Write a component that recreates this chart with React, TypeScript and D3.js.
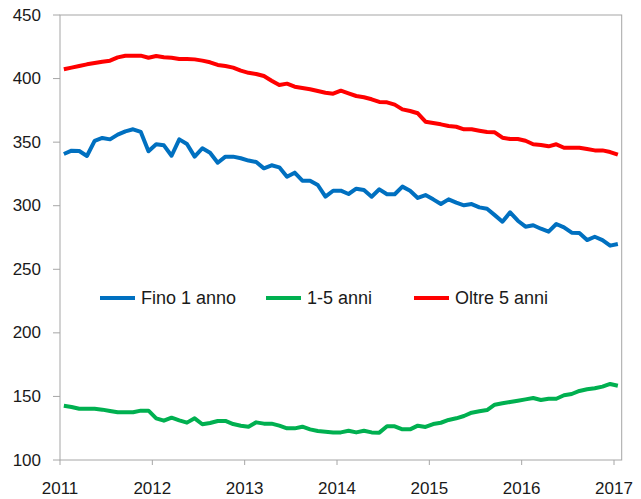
import React from "react";
import * as d3 from "d3";

// monthly values, Jan 2011 - Jan 2017
const fino1 = [
	340.7, 343.3, 343, 339.1, 351, 353.3, 352.2, 355.9, 358.5, 360.1, 358, 342.8,
	348.3, 347.5, 339.3, 352.2, 348.5, 338.6, 345.2, 341.7, 333.8, 338.6, 338.6, 337.3,
	335.5, 334.4, 329.4, 331.8, 330.2, 322.8, 326, 319.7, 319.7, 316.3, 307.1, 311.8,
	311.8, 309.2, 313.4, 312.4, 307.1, 312.9, 309, 309, 315, 311.8, 306.1, 308.4,
	305, 301.3, 305, 302.4, 300.3, 301.3, 298.7, 297.6, 292.6, 287.4, 294.8, 288.2,
	283.5, 284.6, 281.9, 279.6, 285.6, 283, 278.8, 278.5, 273, 275.6, 273, 268.6,
	269.9,
];

const anni1_5 = [
	142.7, 141.7, 140.3, 140.3, 140.3, 139.6, 138.5, 137.5, 137.5, 137.5, 138.8, 138.8,
	132.8, 130.9, 133.3, 131.2, 129.4, 132.8, 128.1, 129.1, 130.7, 130.7, 128.3, 127,
	126.2, 129.6, 128.6, 128.6, 127, 124.9, 124.9, 126.2, 124.1, 122.8, 122.3, 121.7,
	121.7, 123, 121.7, 123, 121.7, 121.5, 126.5, 126.5, 124.1, 124.1, 127, 126,
	128.3, 129.3, 131.5, 132.8, 134.6, 137.2, 138.3, 139.3, 143.5, 144.6, 145.6, 146.6,
	147.7, 148.8, 147.2, 148.2, 148.2, 150.9, 151.9, 154.3, 155.6, 156.4, 157.7, 159.8,
	158.4,
];

const oltre5 = [
	407.3, 408.6, 409.9, 411.2, 412.2, 413.3, 414.1, 416.7, 418, 418, 418, 416.4,
	417.7, 416.7, 416.4, 415.4, 415.4, 415.1, 414.1, 412.8, 410.7, 409.9, 408.6, 406.2,
	404.5, 403.6, 402, 398.3, 394.9, 396, 393.6, 392.6, 391.6, 390.2, 388.9, 388.1,
	390.5, 388.4, 386.3, 385.3, 383.7, 381.6, 381.3, 379.5, 375.8, 374.5, 372.7, 366.1,
	365, 364, 362.7, 362.1, 360.1, 360.1, 359, 358, 357.7, 353.5, 352.5, 352.5,
	351.1, 348.3, 347.8, 346.7, 348.3, 345.6, 345.6, 345.6, 344.6, 343.5, 343.5, 342.2,
	340.1,
];

const years = [2011, 2012, 2013, 2014, 2015, 2016, 2017];
const yTicks = [100, 150, 200, 250, 300, 350, 400, 450];

const series = [
	{ name: "Fino 1 anno", values: fino1, color: "#0070C0" },
	{ name: "1-5 anni", values: anni1_5, color: "#00B050" },
	{ name: "Oltre 5 anni", values: oltre5, color: "#FF0000" },
];

const W = 641;
const H = 499;
const left = 60;
const right = 621.7;
const top = 15;
const bottom = 460;
const font = "'Liberation Sans', Arial, sans-serif";

export default function App() {
	const nMonths = (years[years.length - 1] - years[0]) * 12 + 1;
	const x = d3.scaleLinear().domain([0, nMonths]).range([left, right]);
	const y = d3.scaleLinear().domain([100, 450]).range([bottom, top]);

	const line = d3
		.line<number>()
		.x((_, i) => x(i + 0.5))
		.y((d) => y(d));

	const legendX = [100, 266, 414];

	return (
		<svg
			width={W}
			height={H}
			style={{ position: "absolute", left: 0, top: 0, background: "#fff" }}
			fontFamily={font}
		>
			<rect
				x={left}
				y={top}
				width={right - left}
				height={bottom - top}
				fill="none"
				stroke="#a6a6a6"
				strokeWidth={1}
			/>
			{yTicks.map((t) => (
				<g key={t}>
					<line x1={left - 7} x2={left} y1={y(t)} y2={y(t)} stroke="#a6a6a6" />
					<text
						x={41}
						y={y(t)}
						textAnchor="end"
						dominantBaseline="central"
						fontSize={17}
						fill="#1a1a1a"
					>
						{t}
					</text>
				</g>
			))}
			{years.map((yr) => {
				const px = x((yr - years[0]) * 12);
				return (
					<g key={yr}>
						<line x1={px} x2={px} y1={bottom} y2={bottom + 5} stroke="#a6a6a6" />
						<text x={px} y={494} textAnchor="middle" fontSize={17} fill="#1a1a1a">
							{yr}
						</text>
					</g>
				);
			})}
			{series.map((s) => (
				<path
					key={s.name}
					d={line(s.values) ?? ""}
					fill="none"
					stroke={s.color}
					strokeWidth={4}
					strokeLinejoin="round"
				/>
			))}
			{series.map((s, i) => (
				<g key={s.name} transform={`translate(${legendX[i]},298)`}>
					<line x1={0} x2={35} y1={0} y2={0} stroke={s.color} strokeWidth={4} />
					<text x={41} y={0} dominantBaseline="central" fontSize={18} fill="#1a1a1a">
						{s.name}
					</text>
				</g>
			))}
		</svg>
	);
}
